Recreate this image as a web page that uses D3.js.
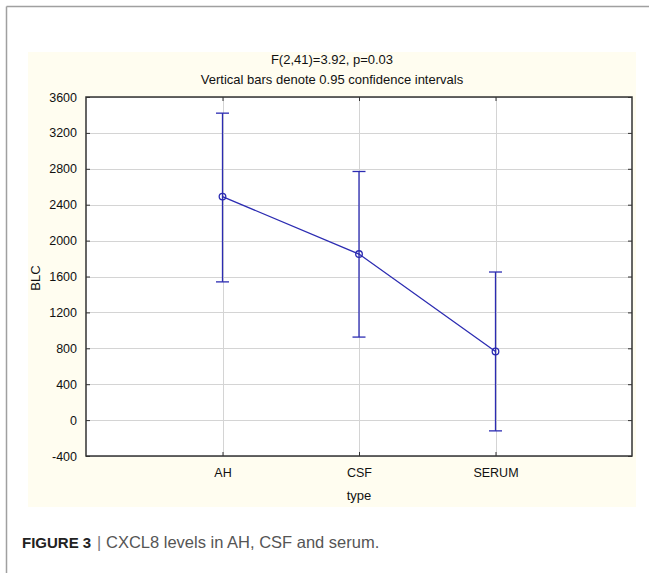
<!DOCTYPE html>
<html>
<head>
<meta charset="utf-8">
<script src="https://cdn.jsdelivr.net/npm/d3@7"></script>
<style>
  html, body { margin: 0; padding: 0; background: #fff; }
  svg { display: block; }
</style>
</head>
<body>
<script>
// Means and 95% confidence limits of BLC (CXCL8) by sample type
const categories = ["AH", "CSF", "SERUM"];
const means = [2490, 1850, 765];
const lowerCI = [1540, 925, -120];
const upperCI = [3420, 2770, 1650];
const yTicks = [-400, 0, 400, 800, 1200, 1600, 2000, 2400, 2800, 3200, 3600];
const titleLines = ["F(2,41)=3.92, p=0.03", "Vertical bars denote 0.95 confidence intervals"];
const xTitle = "type";
const yTitle = "BLC";

const W = 649, H = 573;
const plot = { left: 86, right: 632, top: 97, bottom: 456 };
const blue = "#2c2cb2";
const font = "Liberation Sans, Arial, sans-serif";

const svg = d3.select("body").append("svg").attr("width", W).attr("height", H);

// Page frame lines
svg.append("line").attr("x1", 6.5).attr("x2", 6.5).attr("y1", 6.5).attr("y2", H).attr("stroke", "#a0a0a0").attr("stroke-width", 1.5);
svg.append("line").attr("x1", 6.5).attr("x2", W).attr("y1", 6.5).attr("y2", 6.5).attr("stroke", "#a0a0a0").attr("stroke-width", 1.5);

// Cream graph background
svg.append("rect").attr("x", 28).attr("y", 52).attr("width", 608).attr("height", 455).attr("fill", "#fffdf0");

// Scales
const x = d3.scalePoint().domain(["", ...categories, " "]).range([plot.left, plot.right]);
const y = d3.scaleLinear().domain([-400, 3600]).range([plot.bottom, plot.top]);

// Plot area
svg.append("rect").attr("x", plot.left).attr("y", plot.top)
  .attr("width", plot.right - plot.left).attr("height", plot.bottom - plot.top).attr("fill", "#fff");

// Grid lines
const grid = svg.append("g").attr("stroke", "#d4d4d4").attr("stroke-width", 1);
grid.selectAll("line.h").data(yTicks).join("line").attr("class", "h")
  .attr("x1", plot.left).attr("x2", plot.right)
  .attr("y1", d => Math.round(y(d)) + 0.5).attr("y2", d => Math.round(y(d)) + 0.5);
grid.selectAll("line.v").data(categories).join("line").attr("class", "v")
  .attr("x1", d => Math.round(x(d)) + 0.5).attr("x2", d => Math.round(x(d)) + 0.5)
  .attr("y1", plot.top).attr("y2", plot.bottom);

// Axes with inward ticks
const axisStyle = g => {
  g.selectAll(".domain").remove();
  g.selectAll(".tick line").attr("stroke", "#333");
  g.selectAll(".tick text").attr("fill", "#111").attr("font-family", font).attr("font-size", 12.5);
};
svg.append("g").attr("transform", `translate(${plot.left},0)`)
  .call(d3.axisLeft(y).tickValues(yTicks).tickSizeInner(-4).tickSizeOuter(0).tickPadding(9).tickFormat(d => String(d)))
  .call(axisStyle);
svg.append("g").attr("transform", `translate(${plot.right},0)`)
  .call(d3.axisRight(y).tickValues(yTicks).tickSizeInner(-4).tickSizeOuter(0).tickFormat(""))
  .call(axisStyle);
svg.append("g").attr("transform", `translate(0,${plot.bottom})`)
  .call(d3.axisBottom(x).tickValues(categories).tickSizeInner(-4).tickSizeOuter(0).tickPadding(12))
  .call(axisStyle);
svg.append("g").attr("transform", `translate(0,${plot.top})`)
  .call(d3.axisTop(x).tickValues(categories).tickSizeInner(-4).tickSizeOuter(0).tickFormat(""))
  .call(axisStyle);

// Plot border
svg.append("rect").attr("x", plot.left).attr("y", plot.top)
  .attr("width", plot.right - plot.left).attr("height", plot.bottom - plot.top)
  .attr("fill", "none").attr("stroke", "#333").attr("stroke-width", 1.5);

// Mean line
svg.append("path").datum(categories.map((c, i) => [x(c), y(means[i])]))
  .attr("d", d3.line()).attr("fill", "none").attr("stroke", blue).attr("stroke-width", 1.3);

// Confidence interval bars
const bars = svg.append("g").attr("stroke", blue).attr("stroke-width", 1.3).attr("fill", "none");
categories.forEach((c, i) => {
  const cx = x(c);
  bars.append("line").attr("x1", cx).attr("x2", cx).attr("y1", y(lowerCI[i])).attr("y2", y(upperCI[i]));
  bars.append("line").attr("x1", cx - 6.5).attr("x2", cx + 6.5).attr("y1", y(upperCI[i])).attr("y2", y(upperCI[i]));
  bars.append("line").attr("x1", cx - 6.5).attr("x2", cx + 6.5).attr("y1", y(lowerCI[i])).attr("y2", y(lowerCI[i]));
  bars.append("circle").attr("cx", cx).attr("cy", y(means[i])).attr("r", 3.3).attr("fill", "none");
});

// Titles
svg.append("g").selectAll("text").data(titleLines).join("text")
  .attr("x", 332).attr("y", (d, i) => 64 + i * 19.5)
  .attr("text-anchor", "middle").attr("font-family", font).attr("font-size", 13).attr("fill", "#111")
  .text(d => d);
svg.append("text").attr("x", (plot.left + plot.right) / 2).attr("y", 500)
  .attr("text-anchor", "middle").attr("font-family", font).attr("font-size", 13).attr("fill", "#111").text(xTitle);
svg.append("text").attr("transform", "translate(40,278) rotate(-90)")
  .attr("text-anchor", "middle").attr("font-family", font).attr("font-size", 13).attr("fill", "#111").text(yTitle);

// Figure caption
svg.append("text").attr("x", 22).attr("y", 548)
  .attr("font-family", font).attr("font-size", 15).attr("font-weight", "bold").attr("fill", "#222").text("FIGURE 3");
svg.append("text").attr("x", 97).attr("y", 548)
  .attr("font-family", font).attr("font-size", 16).attr("fill", "#777").text("|");
svg.append("text").attr("x", 106).attr("y", 548)
  .attr("font-family", font).attr("font-size", 16.5).attr("fill", "#555").text("CXCL8 levels in AH, CSF and serum.");
</script>
</body>
</html>
